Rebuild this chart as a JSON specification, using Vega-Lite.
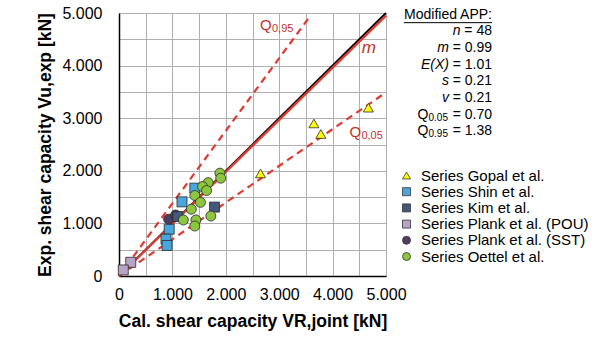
{
  "$schema": "https://vega.github.io/schema/vega-lite/v6.json",
  "padding": {"left": 36, "top": 5, "right": 5, "bottom": 5},
  "bounds": "flush",
  "spacing": 16,
  "config": {
    "font": "Liberation Sans",
    "view": {"stroke": null},
    "legend": {
      "labelFontSize": 15,
      "labelColor": "#000000",
      "labelLimit": 400,
      "symbolSize": 64,
      "rowPadding": 0.2,
      "labelOffset": 7,
      "symbolStrokeColor": "#333333",
      "symbolStrokeWidth": 0.8
    }
  },
  "datasets": {
    "points": [
      {"series": "Series Gopal et al.", "x": 2650, "y": 1950},
      {"series": "Series Gopal et al.", "x": 3650, "y": 2900},
      {"series": "Series Gopal et al.", "x": 3780, "y": 2700},
      {"series": "Series Gopal et al.", "x": 4670, "y": 3200},
      {"series": "Series Shin et al.", "x": 1420, "y": 1670},
      {"series": "Series Shin et al.", "x": 1180, "y": 1410},
      {"series": "Series Shin et al.", "x": 940, "y": 890},
      {"series": "Series Shin et al.", "x": 880, "y": 700},
      {"series": "Series Shin et al.", "x": 900, "y": 580},
      {"series": "Series Kim et al.", "x": 1790, "y": 1310},
      {"series": "Series Plank et al. (POU)", "x": 220, "y": 260},
      {"series": "Series Plank et al. (POU)", "x": 80, "y": 115},
      {"series": "Series Plank et al. (SST)", "x": 930, "y": 1080},
      {"series": "Series Plank et al. (SST)", "x": 1060, "y": 1160},
      {"series": "Series Kim et al.", "x": 1100, "y": 1130},
      {"series": "Series Oettel et al.", "x": 1890, "y": 1955},
      {"series": "Series Oettel et al.", "x": 1905, "y": 1860},
      {"series": "Series Oettel et al.", "x": 1670, "y": 1775},
      {"series": "Series Oettel et al.", "x": 1565, "y": 1700},
      {"series": "Series Oettel et al.", "x": 1640, "y": 1625},
      {"series": "Series Oettel et al.", "x": 1420, "y": 1530},
      {"series": "Series Oettel et al.", "x": 1525, "y": 1400},
      {"series": "Series Oettel et al.", "x": 1355, "y": 1270},
      {"series": "Series Oettel et al.", "x": 1205, "y": 1065},
      {"series": "Series Oettel et al.", "x": 1440, "y": 1065},
      {"series": "Series Oettel et al.", "x": 1420, "y": 950},
      {"series": "Series Oettel et al.", "x": 1720, "y": 1140}
    ],
    "lines": [
      {"line": "unity", "x": 0, "y": 0},
      {"line": "unity", "x": 5000, "y": 5000},
      {"line": "m", "x": 0, "y": 0},
      {"line": "m", "x": 5000, "y": 4950},
      {"line": "Q95", "x": 0, "y": 0},
      {"line": "Q95", "x": 3550, "y": 4900},
      {"line": "Q05", "x": 0, "y": 0},
      {"line": "Q05", "x": 5000, "y": 3490}
    ],
    "qlabels": [
      {"x": 2640, "y": 4765, "main": "Q", "sub": "0,95"},
      {"x": 4315, "y": 2740, "main": "Q", "sub": "0,05"}
    ],
    "mlabel": [
      {"x": 4680, "y": 4335, "main": "m"}
    ],
    "stats": [
      {"line": 1, "lhs": "", "sub": "", "rhs": "Modified APP:", "kind": "title"},
      {"line": 2, "lhs": "n", "sub": "", "rhs": "= 48", "kind": "short"},
      {"line": 3, "lhs": "m", "sub": "", "rhs": "= 0.99", "kind": "var"},
      {"line": 4, "lhs": "E(X)", "sub": "", "rhs": "= 1.01", "kind": "var"},
      {"line": 5, "lhs": "s", "sub": "", "rhs": "= 0.21", "kind": "var"},
      {"line": 6, "lhs": "v", "sub": "", "rhs": "= 0.21", "kind": "var"},
      {"line": 7, "lhs": "Q", "sub": "0.05", "rhs": "= 0.70", "kind": "q"},
      {"line": 8, "lhs": "Q", "sub": "0.95", "rhs": "= 1.38", "kind": "q"}
    ]
  },
  "hconcat": [
    {
      "width": 267,
      "height": 263,
      "encoding": {
        "x": {
          "field": "x", "type": "quantitative",
          "scale": {"domain": [0, 5000], "nice": false},
          "axis": {
            "title": "Cal. shear capacity VR,joint [kN]",
            "values": [0, 500, 1000, 1500, 2000, 2500, 3000, 3500, 4000, 4500, 5000],
            "labelExpr": "datum.value % 1000 === 0 ? replace(format(datum.value, ','), ',', '.') : ''",
            "grid": true, "gridColor": "#B0B0B0", "gridWidth": 1,
            "ticks": false, "labelPadding": 10, "titlePadding": 10,
            "labelFontSize": 16, "titleFontSize": 17.5, "titleFontWeight": "bold",
            "labelColor": "#000000", "titleColor": "#000000",
            "domainColor": "#000000", "domainWidth": 1.5,
            "labelFlush": false, "labelOverlap": false, "labelBound": false
          }
        },
        "y": {
          "field": "y", "type": "quantitative",
          "scale": {"domain": [0, 5000], "nice": false},
          "axis": {
            "title": "Exp. shear capacity Vu,exp [kN]",
            "values": [0, 500, 1000, 1500, 2000, 2500, 3000, 3500, 4000, 4500, 5000],
            "labelExpr": "datum.value % 1000 === 0 ? replace(format(datum.value, ','), ',', '.') : ''",
            "grid": true, "gridColor": "#B0B0B0", "gridWidth": 1,
            "ticks": false, "labelPadding": 17, "titlePadding": 7,
            "labelFontSize": 16, "titleFontSize": 17.5, "titleFontWeight": "bold",
            "labelColor": "#000000", "titleColor": "#000000",
            "domainColor": "#000000", "domainWidth": 1.5,
            "labelFlush": false, "labelOverlap": false, "labelBound": false
          }
        }
      },
      "layer": [
        {
          "data": {"name": "lines"},
          "transform": [{"filter": "datum.line === 'unity'"}],
          "mark": {"type": "line", "color": "#000000", "strokeWidth": 2}
        },
        {
          "data": {"name": "lines"},
          "transform": [{"filter": "datum.line === 'm'"}],
          "mark": {"type": "line", "color": "#E03A30", "strokeWidth": 2.2}
        },
        {
          "data": {"name": "lines"},
          "transform": [{"filter": "datum.line === 'Q95' || datum.line === 'Q05'"}],
          "mark": {"type": "line", "color": "#E03A30", "strokeWidth": 2.2, "strokeDash": [7, 5]},
          "encoding": {"detail": {"field": "line"}}
        },
        {
          "data": {"name": "points"},
          "mark": {"type": "point", "filled": true, "opacity": 1, "size": 100, "stroke": "#2a2a2a", "strokeWidth": 0.8},
          "encoding": {
            "color": {
              "field": "series", "type": "nominal", "title": null,
              "scale": {
                "domain": ["Series Gopal et al.", "Series Shin et al.", "Series Kim et al.", "Series Plank et al. (POU)", "Series Plank et al. (SST)", "Series Oettel et al."],
                "range": ["#FFFF00", "#48A6DD", "#44587A", "#B8A3C9", "#4E3D60", "#8CC63F"]
              },
              "legend": {"orient": "none", "legendX": 280, "legendY": 155}
            },
            "shape": {
              "field": "series", "type": "nominal", "title": null,
              "scale": {
                "domain": ["Series Gopal et al.", "Series Shin et al.", "Series Kim et al.", "Series Plank et al. (POU)", "Series Plank et al. (SST)", "Series Oettel et al."],
                "range": ["triangle-up", "square", "square", "square", "circle", "circle"]
              },
              "legend": {"orient": "none", "legendX": 280, "legendY": 155}
            }
          }
        },
        {
          "data": {"name": "qlabels"},
          "mark": {"type": "text", "align": "left", "baseline": "middle", "fontSize": 15, "color": "#C8302A"},
          "encoding": {"text": {"field": "main"}}
        },
        {
          "data": {"name": "qlabels"},
          "mark": {"type": "text", "align": "left", "baseline": "middle", "fontSize": 11, "color": "#C8302A", "dx": 12, "dy": 4},
          "encoding": {"text": {"field": "sub"}}
        },
        {
          "data": {"name": "mlabel"},
          "mark": {"type": "text", "align": "center", "baseline": "middle", "fontSize": 17, "fontStyle": "italic", "color": "#C8302A"},
          "encoding": {"text": {"field": "main"}}
        }
      ]
    },
    {
      "width": 90,
      "height": 120,
      "data": {"name": "stats"},
      "encoding": {
        "x": {"datum": 1, "type": "quantitative", "scale": {"domain": [0, 1]}, "axis": null},
        "y": {"field": "line", "type": "quantitative", "scale": {"domain": [0.9, 8.1], "reverse": true}, "axis": null}
      },
      "layer": [
        {
          "mark": {"type": "text", "align": "right", "baseline": "middle", "fontSize": 14, "color": "#000000"},
          "encoding": {"text": {"field": "rhs"}}
        },
        {
          "transform": [{"filter": "datum.kind === 'var'"}],
          "mark": {"type": "text", "align": "right", "baseline": "middle", "fontSize": 14, "fontStyle": "italic", "color": "#000000", "dx": -43},
          "encoding": {"text": {"field": "lhs"}}
        },
        {
          "transform": [{"filter": "datum.kind === 'short'"}],
          "mark": {"type": "text", "align": "right", "baseline": "middle", "fontSize": 14, "fontStyle": "italic", "color": "#000000", "dx": -31.5},
          "encoding": {"text": {"field": "lhs"}}
        },
        {
          "transform": [{"filter": "datum.kind === 'q'"}],
          "mark": {"type": "text", "align": "right", "baseline": "middle", "fontSize": 14, "color": "#000000", "dx": -63.5},
          "encoding": {"text": {"field": "lhs"}}
        },
        {
          "transform": [{"filter": "datum.kind === 'q'"}],
          "mark": {"type": "text", "align": "right", "baseline": "middle", "fontSize": 10, "color": "#000000", "dx": -44, "dy": 3},
          "encoding": {"text": {"field": "sub"}}
        },
        {
          "transform": [{"filter": "datum.kind === 'title'"}],
          "mark": {"type": "rule", "color": "#000000", "strokeWidth": 1, "yOffset": 8},
          "encoding": {
            "x": {"datum": 0.02, "type": "quantitative"},
            "x2": {"datum": 1}
          }
        }
      ]
    }
  ]
}
